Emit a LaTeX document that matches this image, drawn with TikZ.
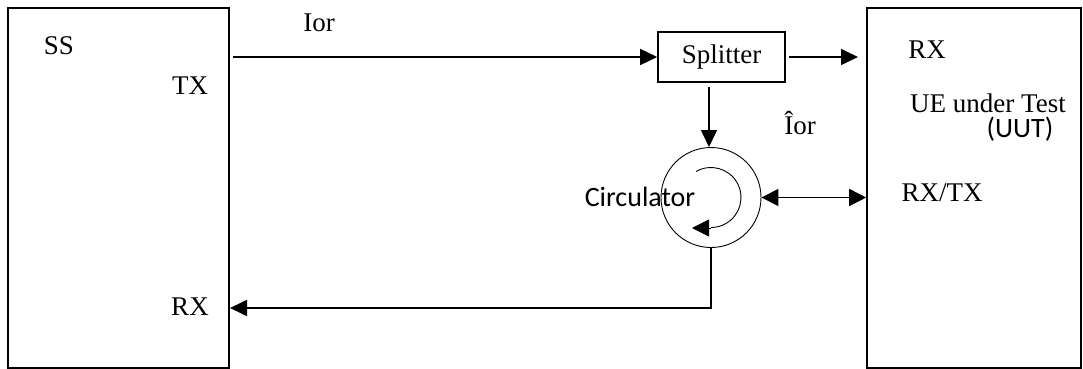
\documentclass[tikz,border=0pt]{standalone}
\usepackage{fontspec}
\setmainfont{Liberation Serif}
\newfontfamily\calfont{Carlito}
\usetikzlibrary{arrows.meta}
\begin{document}
\begin{tikzpicture}[x=1pt,y=-1pt,
  blk/.style={draw, line width=1.6pt, inner sep=0pt},
  lbl/.style={inner sep=0pt, font=\fontsize{27}{32}\selectfont},
  slbl/.style={inner sep=0pt, font=\calfont\fontsize{28}{33}\selectfont},
  conn/.style={line width=1.6pt, -{Triangle[length=17pt,width=16pt]}},
  dconn/.style={line width=1.6pt, {Triangle[length=17pt,width=17pt]}-{Triangle[length=17pt,width=17pt]}},
  thinarr/.style={line width=0.9pt, -{Triangle[length=17pt,width=17pt]}}]
\useasboundingbox (0,0) rectangle (1083,369);
% blocks
\node[blk, minimum width=221pt, minimum height=360pt] (ss) at (118.5,188) {};
\node[blk, minimum width=214pt, minimum height=360pt] (ue) at (974,188) {};
\node[blk, minimum width=127pt, minimum height=50pt, lbl] (spl) at (721.5,57) {Splitter};
\node[draw, circle, line width=0.9pt, minimum size=100pt, inner sep=0pt] (circ) at (711,197.5) {};
% labels
\node[lbl] (ssl) at (59,46) {SS};
\node[lbl] (tx) at (190,86) {TX};
\node[lbl] (rx) at (190,307) {RX};
\node[lbl] (ior) at (319,23) {Ior};
\node[lbl] (iorh) at (800,123) {Îor};
\node[lbl] (uerx) at (927,50) {RX};
\node[lbl] (uut) at (988,103) {UE under Test};
\node[slbl] (uutp) at (1020,129) {(UUT)};
\node[lbl] (rxtx) at (942,193) {RX/TX};
\node[slbl] (circl) at (640,197) {Circulator};
% helper coordinates
\coordinate (tstart) at (233,57);
\coordinate (uein) at (858,57);
\coordinate (dstart) at (709,87);
\coordinate (dend) at (709,147);
\coordinate (bcorner) at (711,308);
\coordinate (ssrx) at (230,308);
\coordinate (arcend) at (711,228);
\coordinate (arctip) at (692,228);
% connectors
\draw[conn] (tstart) -- (spl.west);
\draw[conn] ([xshift=3pt]spl.east) -- (uein);
\draw[conn] (dstart) -- (dend);
\draw[dconn] (circ.east) -- (ue.west |- circ.east);
\draw[conn] (circ.south) -- (bcorner) -- (ssrx);
\draw[line width=0.9pt] ([shift={(-120:30)}]circ.center) arc[start angle=-120, end angle=90, radius=30];
\draw[thinarr] (arcend) -- (arctip);
\end{tikzpicture}
\end{document}
